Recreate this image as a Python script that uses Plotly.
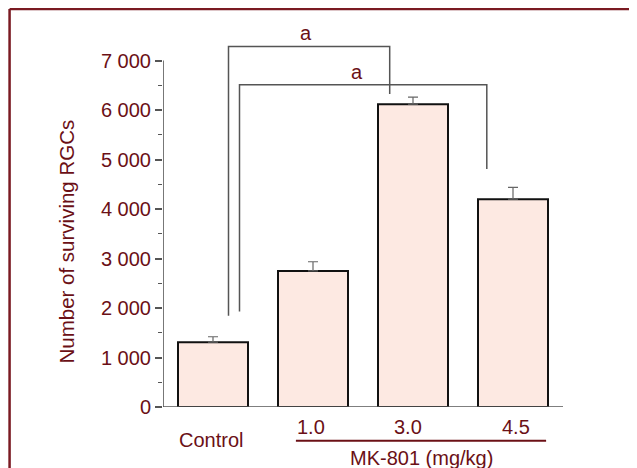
import plotly.graph_objects as go

# ---- data ----
groups = ["Control", "1.0", "3.0", "4.5"]
surviving = [1310, 2750, 6120, 4200]
sem = [110, 185, 140, 240]
ytick_vals = [0, 1000, 2000, 3000, 4000, 5000, 6000, 7000]
ytick_text = ["0", "1 000", "2 000", "3 000", "4 000", "5 000", "6 000", "7 000"]
minor_vals = [500, 1500, 2500, 3500, 4500, 5500, 6500]
# significance brackets: (left x, left leg bottom, right x, right leg bottom, top, label x, label y)
bracket_outer = dict(x0=0.155, y0=1845, x1=1.767, y1=6325, top=7286, lx=0.932, ly=7557, label="a")
bracket_inner = dict(x0=0.265, y0=1932, x1=2.738, y1=4809, top=6512, lx=1.444, ly=6761, label="a")

TXT = "#6b1016"
BORDER = "#7a1a22"
GRAY = "#555555"
FONT = "Liberation Sans, Arial, sans-serif"
FS = 20

# page body has an 8px margin; the plot area should sit at screen x 162.5..562.7, y 21..407
BODY = 8
PX_L, PW = 162.5, 400.2
PY_B, PH = 407.0, 386.0


def px(sx):
    return (sx - PX_L) / PW


def py(sy):
    return (PY_B - sy) / PH


xpos = list(range(len(groups)))

fig = go.Figure()
fig.add_trace(go.Bar(
    x=xpos, y=surviving, width=0.7,
    marker=dict(color="#fde9e2", line=dict(color="#111111", width=2)),
    error_y=dict(type="data", array=sem, symmetric=False, arrayminus=[0] * 4,
                 color="#666666", thickness=1.2, width=5),
    showlegend=False,
))

for b in (bracket_outer, bracket_inner):
    fig.add_trace(go.Scatter(
        x=[b["x0"], b["x0"], b["x1"], b["x1"]],
        y=[b["y0"], b["top"], b["top"], b["y1"]],
        mode="lines", line=dict(color=GRAY, width=1.5),
        showlegend=False, hoverinfo="skip",
    ))
    fig.add_annotation(x=b["lx"], y=b["ly"], text=b["label"], showarrow=False,
                       font=dict(family=FONT, size=FS, color=TXT),
                       xanchor="center", yanchor="middle")

# y axis line (only up to 7000)
fig.add_shape(type="line", xref="x", yref="y", x0=-0.5, x1=-0.5, y0=0, y1=ytick_vals[-1],
              line=dict(color=GRAY, width=1.6))
# x axis line
fig.add_shape(type="line", xref="x", yref="y", x0=-0.5, x1=3.5, y0=0, y1=0,
              line=dict(color=GRAY, width=1.6))

# category labels
label_dx = [-0.02, -0.02, -0.05, 0.03]
label_sy = [440, 427, 427, 427]
for i, g in enumerate(groups):
    fig.add_annotation(x=xpos[i] + label_dx[i], y=py(label_sy[i]), xref="x", yref="paper",
                       text=g, showarrow=False, xanchor="center", yanchor="middle",
                       font=dict(family=FONT, size=FS, color=TXT))
# MK-801 underline + title
fig.add_shape(type="line", xref="x", yref="paper", x0=0.829, x1=3.331, y0=py(440.7), y1=py(440.7),
              line=dict(color=TXT, width=2))
fig.add_annotation(x=2.088, y=py(458), xref="x", yref="paper", text="MK-801 (mg/kg)",
                   showarrow=False, xanchor="center", yanchor="middle",
                   font=dict(family=FONT, size=FS, color=TXT))
# y title
fig.add_annotation(x=px(65), y=py(242), xref="paper", yref="paper",
                   text="Number of surviving RGCs", textangle=-90, showarrow=False,
                   xanchor="center", yanchor="middle",
                   font=dict(family=FONT, size=20.5, color=TXT))

# figure border (top + left)
fig.add_shape(type="line", xref="paper", yref="paper",
              x0=px(9), x1=px(700), y0=py(9), y1=py(9),
              line=dict(color=BORDER, width=2.5))
fig.add_shape(type="line", xref="paper", yref="paper",
              x0=px(9), x1=px(9), y0=py(9), y1=py(520),
              line=dict(color=BORDER, width=2.5))

W, H = 637, 468
fig.update_layout(
    width=W, height=H,
    margin=dict(l=PX_L - BODY, r=W - (PX_L - BODY) - PW,
                t=(PY_B - PH) - BODY, b=H - (PY_B - BODY), pad=0),
    paper_bgcolor="white", plot_bgcolor="white",
    font=dict(family=FONT, size=FS, color=TXT),
    xaxis=dict(range=[-0.5, 3.5], showticklabels=False, showgrid=False, zeroline=False,
               showline=False, ticks="", fixedrange=True),
    yaxis=dict(range=[0, 7800], tickmode="array", tickvals=ytick_vals, ticktext=ytick_text,
               ticks="outside", ticklen=7, tickwidth=1.5, tickcolor=GRAY,
               tickfont=dict(family=FONT, size=FS, color=TXT),
               minor=dict(tickmode="array", tickvals=minor_vals, ticks="outside",
                          ticklen=4, tickwidth=1.2, tickcolor=GRAY),
               showgrid=False, zeroline=False, showline=False, fixedrange=True),
    showlegend=False,
)

fig.write_html("out.html")
